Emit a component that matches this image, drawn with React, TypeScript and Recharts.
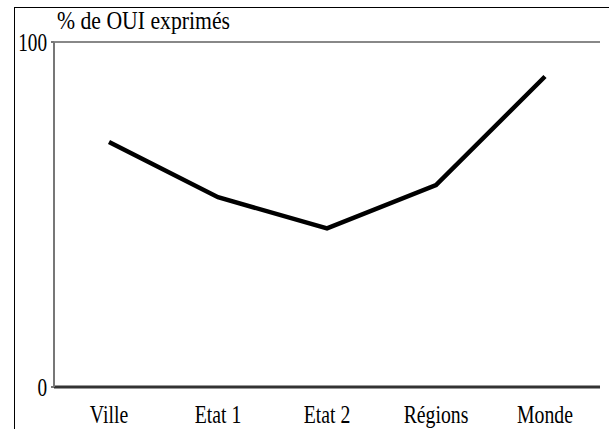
import React from 'react';
import { LineChart, Line, XAxis, YAxis, ReferenceLine } from 'recharts';

const categories = ['Ville', 'Etat 1', 'Etat 2', 'Régions', 'Monde'];
const ouiValues = [71, 55, 46, 58.5, 90];
const yTicks = [0, 100];
const edgeTicks = [0, 1, 2, 3, 4, 5];

const data = categories.map((name, i) => ({ name, oui: ouiValues[i] }));

const font = "'Liberation Serif', Tinos, 'Times New Roman', serif";

function XTick(props: any) {
  const { x, y, payload } = props;
  return (
    <g transform={`translate(${x},${y})`}>
      <text transform="scale(0.76,1)" textAnchor="middle" y={36} fontFamily={font} fontSize={26} fill="#000">
        {payload.value}
      </text>
    </g>
  );
}

function YTick(props: any) {
  const { x, y, payload } = props;
  return (
    <g transform={`translate(${x},${y})`}>
      <text transform="scale(0.74,1)" textAnchor="end" y={9} fontFamily={font} fontSize={26} fill="#000">
        {payload.value}
      </text>
    </g>
  );
}

export default function App() {
  return (
    <div style={{ position: 'relative', width: 609, height: 429, background: '#fff' }}>
      <style>{'html,body{margin:0;padding:0;overflow:hidden;}'}</style>
      <div
        style={{
          position: 'absolute',
          left: 14,
          top: 7,
          width: 595,
          height: 422,
          borderLeft: '1px solid #000',
          borderTop: '1px solid #000',
          boxSizing: 'border-box',
        }}
      />
      <div
        style={{
          position: 'absolute',
          left: 57,
          top: 6,
          fontFamily: font,
          fontSize: 26,
          lineHeight: '30px',
          color: '#000',
          whiteSpace: 'nowrap',
          transform: 'scale(0.835,1)',
          transformOrigin: 'left top',
        }}
      >
        % de OUI exprimés
      </div>
      <div style={{ position: 'absolute', left: 0, top: 0 }}>
        <LineChart width={609} height={429} data={data} margin={{ top: 42, right: 9, bottom: 0, left: 14 }} style={{ overflow: 'visible' }}>
          <XAxis
            xAxisId="edge"
            type="number"
            domain={[0, 5]}
            ticks={edgeTicks}
            height={0}
            tick={false}
            tickSize={4}
            axisLine={false}
            tickLine={{ stroke: '#666', strokeWidth: 2 }}
          />
          <XAxis
            dataKey="name"
            height={42}
            padding={{ left: 55, right: 55 }}
            axisLine={{ stroke: '#333', strokeWidth: 3 }}
            tickLine={false}
            tickSize={0}
            tickMargin={0}
            tick={<XTick />}
          />
          <YAxis
            domain={[0, 100]}
            ticks={yTicks}
            width={40}
            axisLine={{ stroke: '#777', strokeWidth: 2 }}
            tickLine={{ stroke: '#777', strokeWidth: 2 }}
            tickSize={3}
            tickMargin={4}
            tick={<YTick />}
          />
          <ReferenceLine y={100} stroke="#888" strokeWidth={2} />
          <ReferenceLine xAxisId="edge" x={5} stroke="#333" strokeWidth={2} />
          <Line
            type="linear"
            dataKey="oui"
            stroke="#000"
            strokeWidth={4.5}
            dot={false}
            isAnimationActive={false}
          />
        </LineChart>
      </div>
    </div>
  );
}
